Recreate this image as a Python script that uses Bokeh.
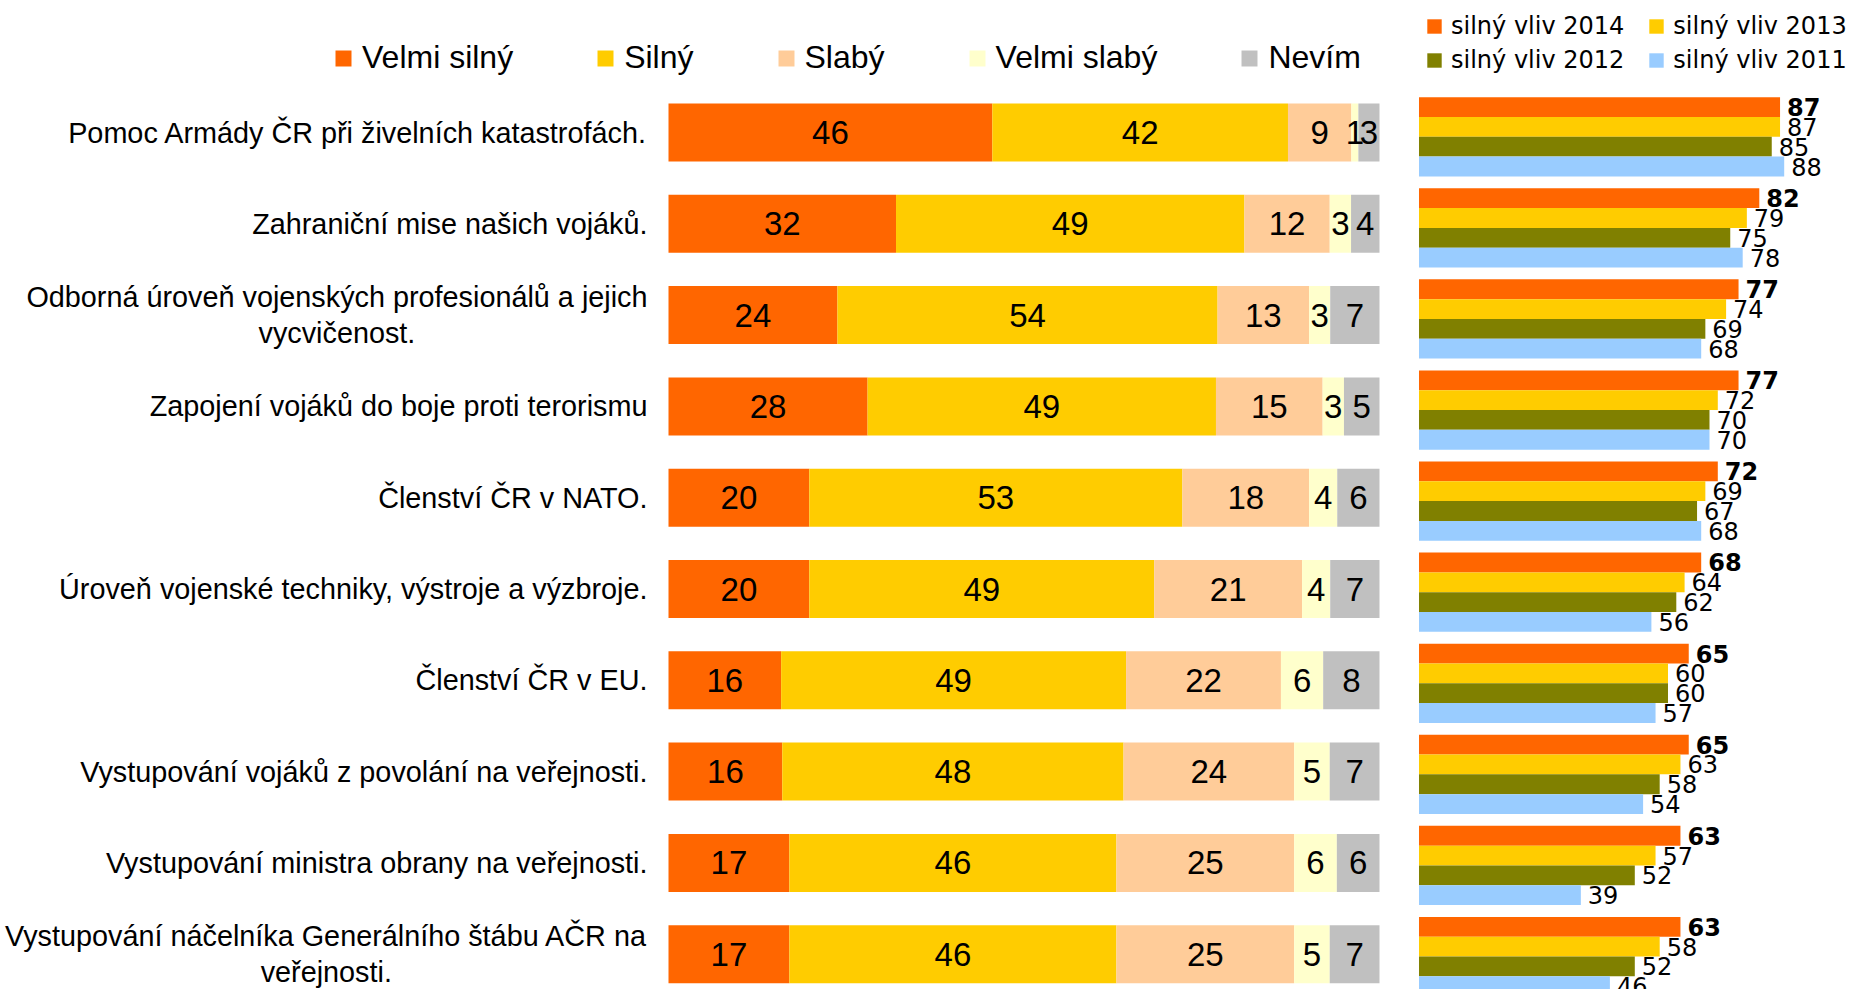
from bokeh.plotting import figure
from bokeh.models import ColumnDataSource, Range1d, Legend, LegendItem
from bokeh.core.properties import value
from bokeh.embed import file_html
from bokeh.resources import INLINE

# ---------------- data ----------------
categories = [
    "Pomoc Armády ČR při živelních katastrofách.",
    "Zahraniční mise našich vojáků.",
    "Odborná úroveň vojenských profesionálů a jejich\nvycvičenost.",
    "Zapojení vojáků do boje proti terorismu",
    "Členství ČR v NATO.",
    "Úroveň vojenské techniky, výstroje a výzbroje.",
    "Členství ČR v EU.",
    "Vystupování vojáků z povolání na veřejnosti.",
    "Vystupování ministra obrany na veřejnosti.",
    "Vystupování náčelníka Generálního štábu AČR na\nveřejnosti.",
]

series_names = ["Velmi silný", "Silný", "Slabý", "Velmi slabý", "Nevím"]
velmi_silny = [46, 32, 24, 28, 20, 20, 16, 16, 17, 17]
silny = [42, 49, 54, 49, 53, 49, 49, 48, 46, 46]
slaby = [9, 12, 13, 15, 18, 21, 22, 24, 25, 25]
velmi_slaby = [1, 3, 3, 3, 4, 4, 6, 5, 6, 5]
nevim = [3, 4, 7, 5, 6, 7, 8, 7, 6, 7]
series_colors = ["#FF6600", "#FFCC00", "#FFCC99", "#FFFFCC", "#C0C0C0"]

year_names = ["silný vliv 2014", "silný vliv 2013", "silný vliv 2012", "silný vliv 2011"]
vliv_2014 = [87, 82, 77, 77, 72, 68, 65, 65, 63, 63]
vliv_2013 = [87, 79, 74, 72, 69, 64, 60, 63, 57, 58]
vliv_2012 = [85, 75, 69, 70, 67, 62, 60, 58, 52, 52]
vliv_2011 = [88, 78, 68, 70, 68, 56, 57, 54, 39, 46]
year_colors = ["#FF6600", "#FFCC00", "#808000", "#99CCFF"]

# ---------------- figure ----------------
FONT = value("Liberation Sans")
FONT_R = value("DejaVu Sans")
W, H = 1856, 989

p = figure(width=W, height=H,
           x_range=Range1d(-93.952, 167.089),
           y_range=Range1d(9.3866, -1.4458),
           output_backend="svg", toolbar_location=None,
           min_border=0, x_axis_location=None, y_axis_location=None)
p.outline_line_color = None
p.background_fill_color = "white"
p.border_fill_color = "white"
p.xgrid.visible = False
p.ygrid.visible = False
p.extra_x_ranges = {"trend": Range1d(-341.807, 105.422)}
p.extra_y_ranges = {"trend": Range1d(9.3621, -1.4965)}

n = len(categories)
rows = list(range(n))
series = [velmi_silny, silny, slaby, velmi_slaby, nevim]
totals = [sum(col) for col in zip(*series)]

# stacked 100% bars
left_renderers = []
text_sources = []
cum = [0.0] * n
for name, vals, color in zip(series_names, series, series_colors):
    starts = list(cum)
    ends = [s + v / t * 100.0 for s, v, t in zip(starts, vals, totals)]
    cum = ends
    src = ColumnDataSource(dict(
        y=rows, left=starts, right=ends,
        mid=[(a + b) / 2 for a, b in zip(starts, ends)],
        label=[str(v) for v in vals]))
    r = p.hbar(y="y", left="left", right="right", height=0.635, source=src,
               fill_color=color, line_color=None)
    left_renderers.append(r)
    text_sources.append(src)

# trend bars (right panel)
offsets = [-1.5, -0.5, 0.5, 1.5]
sub_h = 0.2174
year_series = [vliv_2014, vliv_2013, vliv_2012, vliv_2011]
right_renderers = []
right_sources = []
for k, (name, vals, color) in enumerate(zip(year_names, year_series, year_colors)):
    src = ColumnDataSource(dict(
        y=[r + offsets[k] * sub_h for r in rows], right=vals,
        label=[str(v) for v in vals]))
    r = p.hbar(y="y", left=0, right="right", height=sub_h, source=src,
               fill_color=color, line_color=None,
               x_range_name="trend", y_range_name="trend")
    right_renderers.append(r)
    right_sources.append(src)

# labels in stacked bars
for src in text_sources:
    p.text(x="mid", y="y", text="label", source=src, text_align="center",
           text_baseline="middle", text_font=FONT, text_font_size="33px",
           text_color="black")

# value labels in right panel
for k, src in enumerate(right_sources):
    p.text(x="right", y="y", text="label", source=src, x_offset=7,
           text_align="left", text_baseline="middle", text_font=FONT_R,
           text_font_size="24px", text_font_style="bold" if k == 0 else "normal",
           text_color="black", x_range_name="trend", y_range_name="trend")

# category labels
p.text(x=[0] * n, y=rows, text=categories, x_offset=-21, anchor="center_right",
       text_align="center", text_baseline="middle", text_font=FONT,
       text_font_size="28.8px", text_line_height=1.12, text_color="black")

# legends
leg_main = Legend(items=[LegendItem(label=nm, renderers=[r])
                         for nm, r in zip(series_names, left_renderers)],
                  orientation="horizontal", location=(333, H - 76),
                  glyph_width=20, glyph_height=20, label_standoff=9, spacing=82,
                  padding=0, margin=0, border_line_color=None,
                  background_fill_alpha=0, label_text_font="Liberation Sans",
                  label_text_font_size="32px", label_text_color="black")
p.add_layout(leg_main)

leg_r1 = Legend(items=[LegendItem(label=year_names[i], renderers=[right_renderers[i]]) for i in (0, 1)],
                orientation="horizontal", location=(1425, H - 40),
                glyph_width=18, glyph_height=18, label_standoff=8, spacing=23,
                padding=0, margin=0, border_line_color=None,
                background_fill_alpha=0, label_text_font="DejaVu Sans",
                label_text_font_size="24px", label_text_color="black")
leg_r2 = Legend(items=[LegendItem(label=year_names[i], renderers=[right_renderers[i]]) for i in (2, 3)],
                orientation="horizontal", location=(1425, H - 74),
                glyph_width=18, glyph_height=18, label_standoff=8, spacing=23,
                padding=0, margin=0, border_line_color=None,
                background_fill_alpha=0, label_text_font="DejaVu Sans",
                label_text_font_size="24px", label_text_color="black")
p.add_layout(leg_r1)
p.add_layout(leg_r2)

open("out.html", "w").write(file_html(p, INLINE))
